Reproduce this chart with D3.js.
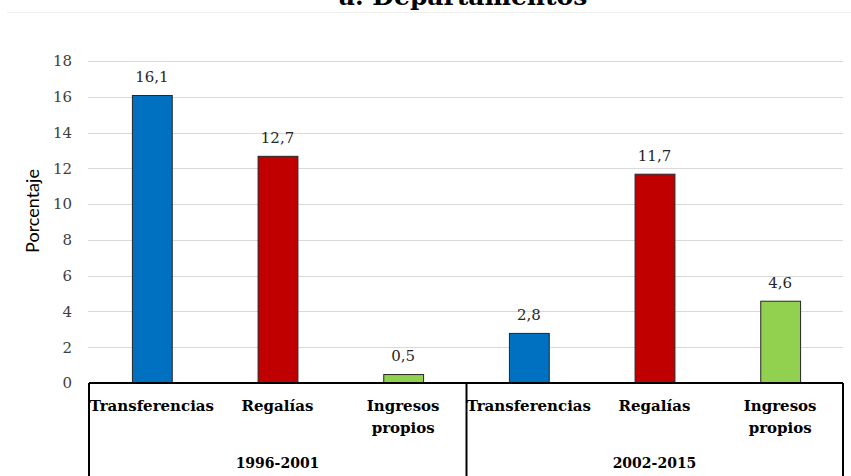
<!DOCTYPE html>
<html>
<head>
<meta charset="utf-8">
<script src="https://cdn.jsdelivr.net/npm/d3@7"></script>
<style>
  body { margin: 0; background: #fff; }
  svg { display: block; }
</style>
</head>
<body>
<div id="chart"></div>
<script>
"use strict";

// data
const periods = ["1996-2001", "2002-2015"];
const sources = ["Transferencias", "Regalías", "Ingresos propios"];
const values1996 = [16.1, 12.7, 0.5];
const values2002 = [2.8, 11.7, 4.6];
const yTicks = [0, 2, 4, 6, 8, 10, 12, 14, 16, 18];

const sourceColors = ["#0070C0", "#C00000", "#92D050"];

const width = 851, height = 476;
const margin = { top: 61, right: 8, bottom: 93, left: 89 };
const serif = "'DejaVu Serif', serif";

// flatten into one row per bar
const rows = [];
[values1996, values2002].forEach((vals, pi) => {
    vals.forEach((v, si) => {
        rows.push({ key: periods[pi] + "|" + sources[si], period: periods[pi], source: sources[si], si: si, value: v });
    });
});

const svg = d3.select("#chart").append("svg")
    .attr("width", width)
    .attr("height", height);

// title, mostly cut off at the top as in the source image
svg.append("text")
    .attr("x", 463)
    .attr("y", 5)
    .attr("text-anchor", "middle")
    .style("font-family", serif)
    .style("font-weight", "bold")
    .style("font-size", "25px")
    .attr("fill", "#000")
    .text("a.   Departamentos");

svg.append("line")
    .attr("x1", 7).attr("x2", width)
    .attr("y1", 12.5).attr("y2", 12.5)
    .attr("stroke", "#f0f0f0");

const x = d3.scaleBand()
    .domain(rows.map(d => d.key))
    .range([margin.left, width - margin.right])
    .paddingInner(0.683)
    .paddingOuter(0.3415);

const xGroup = d3.scaleBand()
    .domain(periods)
    .range([margin.left, width - margin.right]);

const y = d3.scaleLinear()
    .domain([0, 18])
    .range([height - margin.bottom, margin.top]);

// gridlines
svg.append("g")
    .selectAll("line")
    .data(yTicks.filter(t => t > 0))
    .join("line")
    .attr("x1", margin.left - 1)
    .attr("x2", 843)
    .attr("y1", d => Math.round(y(d)) + 0.5)
    .attr("y2", d => Math.round(y(d)) + 0.5)
    .attr("stroke", "#d9d9d9")
    .attr("stroke-width", 1);

// y axis labels
const yAxis = svg.append("g")
    .attr("transform", "translate(" + (margin.left - 8) + ",0)")
    .call(d3.axisLeft(y).tickValues(yTicks).tickSize(0).tickPadding(9));
yAxis.select(".domain").remove();
yAxis.selectAll("text")
    .style("font-family", serif)
    .style("font-size", "15px")
    .attr("fill", "#404040");

svg.append("text")
    .attr("transform", "translate(39,211) rotate(-90)")
    .attr("text-anchor", "middle")
    .style("font-family", "Lato, 'Liberation Sans', sans-serif")
    .style("font-size", "18px")
    .attr("fill", "#000")
    .text("Porcentaje");

// bars
svg.append("g")
    .selectAll("rect")
    .data(rows)
    .join("rect")
    .attr("x", d => x(d.key) + 0.5)
    .attr("y", d => y(d.value) + 0.5)
    .attr("width", x.bandwidth())
    .attr("height", d => y(0) - y(d.value))
    .attr("fill", d => sourceColors[d.si])
    .attr("stroke", "#262626")
    .attr("stroke-width", 1);

// value labels
svg.append("g")
    .selectAll("text")
    .data(rows)
    .join("text")
    .attr("x", d => x(d.key) + x.bandwidth() / 2)
    .attr("y", d => y(d.value) - 13)
    .attr("text-anchor", "middle")
    .style("font-family", serif)
    .style("font-size", "15px")
    .attr("fill", "#262626")
    .text(d => d3.format(".1f")(d.value).replace(".", ","));

// category table under the axis
const base = y(0);
const box = svg.append("g").attr("stroke", "#000").attr("stroke-width", 2);
box.append("line")
    .attr("x1", margin.left).attr("x2", 843)
    .attr("y1", base).attr("y2", base);
const edges = [margin.left, xGroup(periods[1]) + 0.5, 843];
box.selectAll(".edge")
    .data(edges)
    .join("line")
    .attr("class", "edge")
    .attr("x1", d => d).attr("x2", d => d)
    .attr("y1", base).attr("y2", height);

const catLabels = svg.append("g")
    .selectAll("text")
    .data(rows)
    .join("text")
    .attr("x", d => x(d.key) + x.bandwidth() / 2)
    .attr("y", 411)
    .attr("text-anchor", "middle")
    .style("font-family", serif)
    .style("font-weight", "bold")
    .style("font-size", "15px")
    .attr("fill", "#000");
catLabels.each(function (d) {
    const words = d.source === "Ingresos propios" ? ["Ingresos", "propios"] : [d.source];
    d3.select(this).selectAll("tspan")
        .data(words)
        .join("tspan")
        .attr("x", x(d.key) + x.bandwidth() / 2)
        .attr("dy", (w, i) => i === 0 ? 0 : 22)
        .text(w => w);
});

svg.append("g")
    .selectAll("text")
    .data(periods)
    .join("text")
    .attr("x", d => xGroup(d) + xGroup.bandwidth() / 2)
    .attr("y", 468)
    .attr("text-anchor", "middle")
    .style("font-family", serif)
    .style("font-weight", "bold")
    .style("font-size", "14px")
    .attr("fill", "#000")
    .text(d => d);
</script>
</body>
</html>
